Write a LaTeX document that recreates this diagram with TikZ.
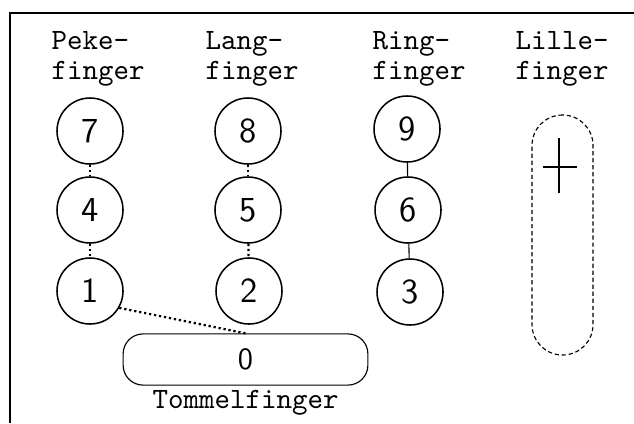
\documentclass[tikz,border=0pt]{standalone}
\usepackage{tikz}
\usetikzlibrary{positioning}
\usetikzlibrary{calc}
\begin{document}
\begin{tikzpicture}[x=0.125cm, y=-0.125cm,
  key/.style={draw, line width=0.55pt, circle, minimum size=0.825cm, inner sep=0pt, font=\sffamily\fontsize{12.5}{13}\selectfont},
  fingername/.style={align=left, inner sep=0pt, anchor=north west, font=\ttfamily\fontsize{10.5}{10.7}\selectfont},
  link/.style={densely dotted, thick}]
\useasboundingbox (0,0) rectangle (63.4,42.3);
\draw (1,42.3) -- (1,1.3) -- (63.4,1.3);
\node[fingername] (peke) at (5.1,3.1) {Peke-\\finger};
\node[fingername] (lang) at (20.5,3.1) {Lang-\\finger};
\node[fingername] (ring) at (37.2,3.1) {Ring-\\finger};
\node[fingername] (lille) at (51.5,3.1) {Lille-\\finger};
\node[key] (k7) at (9,13.1) {7};
\node[key] (k4) at (9,21) {4};
\node[key] (k1) at (9,29.1) {1};
\node[key] (k8) at (24.8,13.1) {8};
\node[key] (k5) at (24.8,21) {5};
\node[key] (k2) at (24.9,29.1) {2};
\node[key] (k9) at (40.7,12.9) {9};
\node[key] (k6) at (40.8,21) {6};
\node[key] (k3) at (41,29.2) {3};
\node[draw, rounded corners=0.25cm, minimum width=3.06cm, minimum height=0.64cm, inner sep=0pt, font=\sffamily\fontsize{11}{12}\selectfont] (k0) at (24.55,35.95) {0};
\node[fingername, anchor=north, below=1.5pt of k0] (tommel) {Tommelfinger};
\node[draw, dash pattern=on 1.5pt off 1pt, rounded corners=0.38cm, minimum width=0.7625cm, minimum height=3cm] (kplus) at (56.25,23.5) {};
\draw (55.9,13.8) -- (55.9,19.3);
\draw (54.3,16.7) -- (57.7,16.7);
\draw[link] (k7) -- (k4);
\draw[link] (k4) -- (k1);
\draw[link] (k8) -- (k5);
\draw[link] (k5) -- (k2);
\draw (k9) -- (k6);
\draw (k6) -- (k3);
\draw[link] (k1.-30) -- (k0.north);
\end{tikzpicture}
\end{document}
